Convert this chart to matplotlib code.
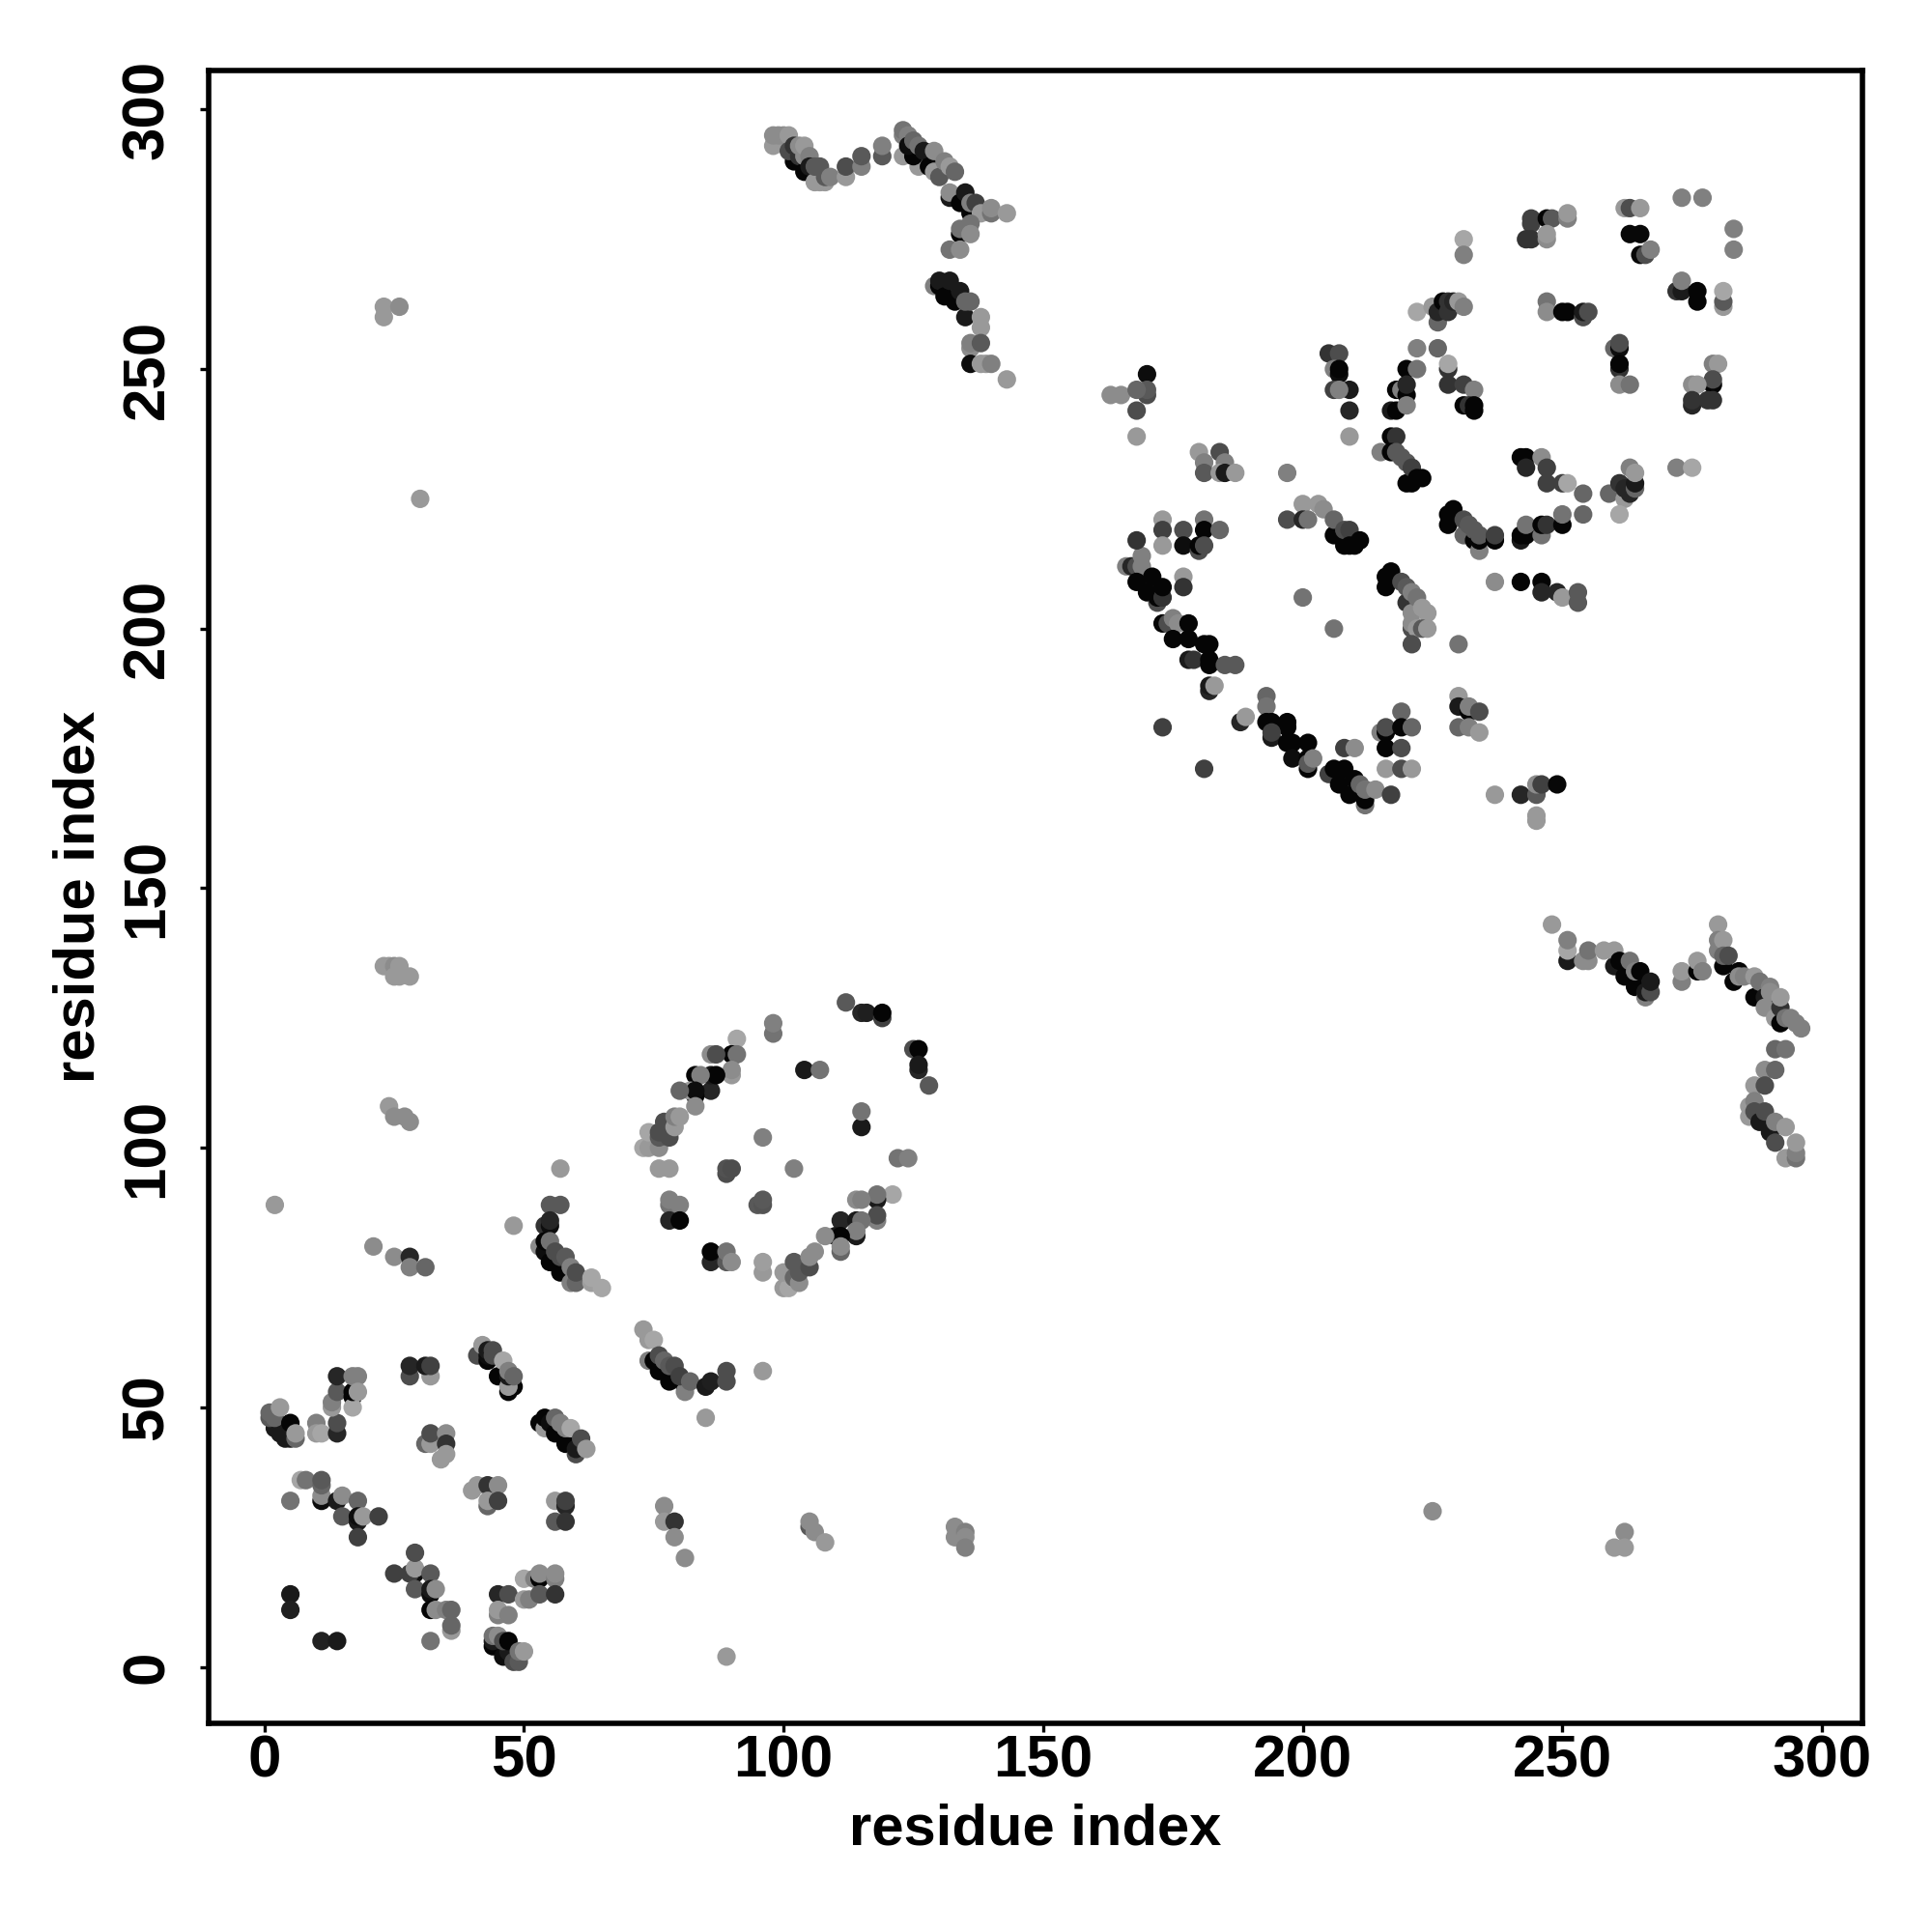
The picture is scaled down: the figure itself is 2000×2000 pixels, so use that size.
import matplotlib
matplotlib.use("Agg")
import matplotlib.pyplot as plt

# (residue i, residue j, grey level), one list per patch
block_a = [(2,46,.1),(2,47,.1),(3,45,.1),(4,44,.1),(1,48,.35),(1,49,.4),(2,48,.4),(5,44,.1),(3,50,.6),(6,44,.4),(5,47,.02),(6,45,.6),
           (10,47,.5),(10,45,.6),(11,45,.65),(14,45,.15),(14,47,.3),
           (13,50,.6),(13,51,.5),(14,53,.35),(14,56,.15),(17,52,.02),(17,50,.65),(17,53,.02),(17,56,.5),(18,56,.5),(18,53,.6),
           (28,56,.3),(28,58,.15),(32,56,.6),(31,58,.1),(32,58,.25),
           (31,43,.4),(32,43,.6),(32,45,.3),(35,45,.55),(35,43,.2),(35,41,.6),(34,40,.6),
           (41,60,.3),(43,59,.02),(43,60,.05),(42,62,.6),(43,61,.1),(44,60,.3),(44,61,.3),(45,56,.02),(47,53,.02),(48,54,.02),(47,54,.6),(47,56,.1),(46,59,.65),(47,57,.5),(48,56,.4),
           (53,47,.02),(54,46,.6),(54,48,.02),(55,47,.05),(56,45,.02),(58,43,.02),(60,41,.3),(60,42,.1),(56,48,.4),(57,47,.5),(58,46,.5),(59,46,.65),(61,44,.3),(62,42,.6)]
block_b = [(7,36,.65),(8,36,.45),(11,32,.05),(11,33,.55),(11,35,.4),(11,36,.35),(5,32,.45),(14,32,.1),(15,33,.55),(18,32,.4),(15,29,.35),(18,28,.1),(18,29,.05),(19,29,.6),(22,29,.25),(18,25,.25),
           (29,18,.05),(25,18,.25),(28,18,.25),(29,19,.6),(29,22,.3),(32,18,.35),(29,15,.35),(32,14,.05),(32,15,.1),(33,15,.55),(32,11,.02),(33,11,.55),(35,11,.5),(36,11,.4),(36,7,.6),(36,8,.4),(32,5,.45),
           (40,34,.6),(41,35,.6),(43,35,.2),(45,35,.55),(43,31,.4),(43,32,.6),(45,32,.25),
           (56,32,.6),(58,31,.15),(58,32,.25),(56,28,.35),(58,28,.2),
           (5,14,.1),(5,11,.12),(11,5,.13),(14,5,.1),
           (45,14,.15),(47,14,.3),(45,10,.5),(45,11,.6),(47,10,.5),(50,17,.65),(52,17,.5),(53,17,.02),(53,18,.55),(56,17,.5),(56,18,.55),(50,13,.6),(51,13,.5),(53,14,.35),(56,14,.2),
           (44,4,.02),(44,5,.1),(44,6,.45),(45,6,.55),(46,2,.05),(47,3,.1),(46,5,.3),(47,5,.02),(48,1,.3),(49,1,.35),(49,3,.45),(50,3,.6)]
block_c = [(57,96,.6),(48,85,.6),(55,89,.35),(57,89,.35),(54,85,.2),(55,85,.05),(55,86,.15),
           (53,81,.55),(54,80,.05),(54,82,.02),(55,78,.02),(57,76,.02),(59,75,.02),(55,82,.45),(56,80,.3),(57,79,.3),(58,79,.35),(59,74,.5),(60,74,.4),(59,77,.5),(60,76,.3),(63,74,.62),(63,75,.65),(65,73,.65),
           (73,65,.6),(74,63,.6),(75,63,.65),(74,59,.5),(75,59,.02),(76,57,.02),(78,55,.02),(81,54,.02),(81,53,.5),(76,60,.3),(77,59,.4),(78,58,.35),(79,58,.3),(80,56,.25),(82,55,.4),(85,54,.1),(86,55,.12),(89,55,.3),(89,57,.3),(96,57,.6),(85,48,.6),
           (2,89,.6),(21,81,.55),(25,79,.55),(28,79,.15),(28,77,.5),(31,77,.4)]
ring_top = [(78,89,.45),(78,90,.5),(80,89,.5),(78,86,.15),(80,86,.02),(89,95,.3),(89,96,.32),(90,96,.3),(95,89,.35),(96,89,.33),(96,90,.35),
            (86,78,.15),(86,80,.02),(89,78,.35),(89,80,.45),(90,78,.55),(96,76,.6),(96,78,.62),
            (112,128,.35),(115,126,.15),(116,126,.12),(119,125,.25),(119,126,.02),(98,122,.45),(98,124,.5),
            (91,121,.65),(90,118,.02),(91,118,.45),(86,118,.55),(87,118,.3),(90,114,.6),(90,115,.55),(86,111,.15),(86,114,.1),(87,114,.02),(83,110,.02),(83,114,.02),(84,114,.5),(82,111,.6),(83,111,.05),(80,111,.4),(83,108,.55),
            (73,100,.65),(74,100,.6),(76,100,.55),(74,103,.65),(76,102,.35),(76,103,.3),(78,102,.3),(77,105,.3),(79,104,.6),(79,106,.5),(80,106,.6),
            (76,96,.6),(78,96,.6),(104,115,.1),(107,115,.45),(115,104,.1),(115,107,.45),
            (125,119,.3),(126,119,.02),(126,115,.15),(126,116,.1),(128,112,.35),(96,102,.5),(102,96,.5),(122,98,.45),(124,98,.5)]
ring_bottom = [(121,91,.65),(118,90,.1),(118,91,.45),(114,90,.55),(115,90,.5),(118,86,.5),(118,87,.3),(111,86,.15),(114,86,.1),(115,86,.45),(114,83,.1),(114,84,.5),(110,83,.1),(111,83,.02),(108,83,.55),(111,80,.4),(111,81,.55),
               (100,73,.6),(101,73,.65),(100,76,.6),(102,75,.4),(103,74,.55),(103,76,.35),(102,78,.35),(105,77,.3),(105,79,.55),(106,80,.55)]
far_left = [(23,135,.6),(24,135,.6),(25,135,.55),(26,135,.6),(25,133,.6),(26,133,.6),(28,133,.6),(24,108,.6),(25,106,.55),(27,106,.55),(28,105,.55),
            (23,262,.6),(23,260,.6),(26,262,.55),(30,225,.6),(77,31,.55),(77,28,.6),(79,28,.2),(79,25,.55),(81,21,.55),
            (105,27,.35),(105,28,.55),(106,26,.55),(108,24,.6),(133,27,.55),(133,25,.55),(135,26,.5),(135,25,.55),(135,23,.5),
            (225,30,.55),(262,26,.55),(260,23,.6),(262,23,.6),(89,2,.6)]
strand_top = [(98,293,.6),(98,295,.55),(99,295,.55),(100,295,.55),(101,295,.6),(102,290,.02),(101,292,.3),(102,293,.2),(103,291,.2),(103,293,.55),(104,288,.02),(104,291,.55),(104,293,.6),(105,291,.5),(105,289,.1),
              (106,286,.6),(107,286,.6),(108,286,.6),(106,289,.35),(107,289,.35),(108,287,.35),(109,287,.5),(112,287,.6),(112,289,.3),(115,289,.5),(115,291,.35),(119,291,.35),(119,293,.5),
              (123,291,.6),(126,289,.6),(125,291,.02),(123,295,.5),(123,296,.45),(124,295,.5),(124,293,.05),(125,294,.4),(126,293,.45),(127,292,.1),(128,289,.02),(129,292,.55),(129,288,.6),(130,287,.35),(131,290,.5),(132,289,.6),(133,288,.4),
              (132,283,.1),(132,284,.55),(134,282,.02),(135,284,.1),(136,280,.02),(136,282,.5),(137,282,.25),(138,280,.6),(140,280,.45),(140,281,.55),(143,280,.6),
              (134,276,.02),(134,277,.45),(136,278,.45),(136,276,.55),(132,273,.45),(134,273,.55)]
strand_top2 = [(129,266,.5),(130,266,.02),(130,267,.1),(131,264,.02),(132,267,.1),(133,263,.02),(134,265,.1),(135,260,.1),(135,263,.4),(136,263,.4),(138,258,.6),(138,260,.6),
               (136,254,.55),(136,255,.5),(138,255,.35),(136,251,.05),(138,251,.6),(139,251,.6),(140,251,.5),(143,248,.6)]
centre_top = [(163,245,.55),(165,245,.55),(170,249,.05),(170,245,.3),(170,246,.35),(168,246,.4),(168,242,.3),(168,237,.6),
              (205,253,.2),(207,253,.3),(206,250,.5),(207,249,.05),(207,250,.02),(206,246,.25),(209,246,.1),(207,246,.5),(209,242,.15),(209,237,.6),
              (180,234,.6),(184,234,.3),(181,232,.5),(185,232,.5),(181,230,.35),(184,230,.6),(185,230,.1),(187,230,.6),(197,230,.5),
              (173,221,.6),(173,219,.25),(173,216,.6),(177,219,.3),(177,216,.05),(181,221,.45),(181,219,.02),(184,219,.4),(180,215,.3),(180,216,.02),(181,216,.3)]
ring2_left = [(166,212,.5),(167,212,.15),(168,212,.3),(169,214,.5),(169,212,.5),(168,209,.02),(170,207,.02),(171,210,.02),(172,205,.3),(172,206,.02),(173,206,.2),(173,208,.02),(177,210,.6),(177,208,.2),(168,217,.2),
              (173,201,.02),(174,201,.3),(175,202,.5),(176,201,.55),(175,198,.02),(178,201,.02),(178,198,.02),(181,197,.02),(182,197,.02),(178,194,.1),(179,194,.2),(182,193,.02),(182,194,.02),(185,193,.35),(187,193,.35),
              (182,188,.15),(182,189,.1),(183,189,.6),(173,181,.25),(181,173,.25),(193,187,.4),(193,185,.45),
              (188,182,.15),(189,183,.6),(193,182,.02),(194,182,.02),(197,181,.02),(197,182,.02),(194,179,.1),(194,180,.25),(197,178,.02),(198,178,.02),(201,178,.02),(198,175,.05),(201,175,.02),(201,173,.02),(201,174,.35),(202,175,.5),
              (208,177,.25),(210,177,.55),(205,172,.25),(206,173,.02),(208,173,.02),(207,170,.02),(209,168,.02),(210,171,.02),(211,170,.4),(212,166,.45),(212,167,.02),(212,169,.45),(214,169,.55),(217,168,.25)]
ring2_right = [(200,224,.6),(203,224,.6),(204,223,.55),(197,221,.3),(200,221,.15),(201,221,.45),(206,218,.02),(206,221,.4),(208,216,.02),(208,219,.3),(209,219,.25),(209,216,.02),(210,216,.02),(211,217,.02),
               (200,206,.45),(206,200,.45),(216,208,.02),(216,210,.02),(217,211,.02),(219,209,.3),(220,205,.2),(220,208,.35),(221,203,.55),(221,207,.5),(222,206,.45),(223,204,.6),(224,203,.6),(221,200,.3),(221,201,.55),(222,200,.6),(223,200,.35),(224,200,.6),(221,197,.3),
               (219,184,.4),(215,180,.5),(216,180,.02),(216,181,.3),(219,181,.02),(221,181,.4),(216,177,.02),(219,177,.3),(216,173,.6),(219,173,.3),(221,173,.6),
               (230,197,.45),(230,187,.6),(230,185,.1),(232,184,.02),(232,185,.5),(234,184,.3),(230,181,.4),(232,181,.5),(234,180,.6),
               (237,168,.6),(242,168,.15),(245,168,.35),(245,170,.55),(246,170,.25),(249,170,.03),(245,164,.6),(245,163,.6)]
sheet_a = [(273,283,.5),(277,283,.5),(283,277,.5),(283,273,.5),(262,281,.6),(263,281,.3),(265,281,.6),(263,276,.03),(265,276,.03),(265,272,.03),(266,272,.3),(267,273,.5),
           (244,278,.25),(244,279,.25),(247,279,.02),(248,279,.35),(251,279,.5),(251,280,.6),(243,275,.2),(244,275,.2),(247,275,.55),(247,276,.6),(231,275,.65),(231,272,.5),
           (222,261,.65),(225,262,.6),(226,259,.4),(226,261,.15),(227,263,.02),(228,261,.2),(228,263,.2),(229,263,.15),(230,263,.6),(231,262,.5),
           (247,263,.45),(247,261,.55),(250,261,.02),(251,261,.02),(254,260,.3),(254,261,.1),(255,261,.3),
           (272,265,.2),(273,265,.1),(273,267,.5),(276,265,.02),(276,263,.02),(281,262,.6),(281,263,.35),(281,265,.65),
           (260,254,.4),(261,254,.05),(261,255,.3),(261,250,.2),(261,251,.02),(261,247,.55),(263,247,.45),
           (279,251,.5),(280,251,.6),(279,247,.02),(279,248,.3),(275,247,.55),(276,247,.6),(275,243,.15),(275,244,.2),(278,244,.2),(279,244,.2),
           (222,254,.5),(226,254,.4),(228,250,.2),(228,251,.65),(220,250,.02),(222,250,.45),(218,246,.02),(219,246,.5),(220,245,.02),(220,247,.15),(217,242,.1),(218,242,.02),(220,243,.5),
           (228,247,.2),(231,247,.25),(233,246,.5),(231,243,.02),(232,243,.2),(233,242,.02),(233,243,.02)]
sheet_b = [(215,234,.5),(217,237,.02),(218,237,.2),(217,234,.02),(220,228,.02),(221,228,.02),(218,234,.35),(219,233,.35),(220,232,.35),(221,231,.25),(222,229,.02),(223,229,.02),
           (242,233,.02),(243,233,.02),(243,231,.15),(246,233,.55),(247,231,.25),(247,228,.25),(250,228,.25),(251,228,.65),(254,226,.4),(254,222,.4),
           (259,226,.4),(261,228,.2),(262,225,.6),(262,227,.15),(263,226,.15),(263,231,.5),(264,227,.4),(264,228,.1),(264,230,.6),(261,222,.65),(272,231,.5),(275,231,.65),
           (228,220,.02),(228,222,.02),(229,223,.02),(231,218,.4),(231,221,.3),(232,220,.35),(233,217,.02),(233,219,.35),(234,215,.5),(234,217,.02),(234,218,.35),(237,217,.02),(237,218,.25),
           (242,217,.1),(242,218,.02),(243,218,.02),(243,220,.45),(246,218,.45),(246,220,.02),(247,220,.2),(250,220,.02),(250,222,.45),
           (237,209,.55),(242,209,.02),(246,209,.02),(246,207,.15),(249,207,.15),(250,206,.6),(253,205,.35),(253,207,.35)]
strand_right = [(248,143,.6),(251,136,.1),(251,138,.65),(251,140,.5),(254,136,.55),(255,136,.55),(255,138,.45),(258,138,.6),(260,135,.1),(260,138,.6),(261,136,.02),(262,133,.02),(264,131,.02),(263,136,.45),(264,134,.5),(265,134,.02),(266,129,.5),(266,130,.1),(267,130,.3),(267,132,.1),
                (273,132,.5),(273,134,.6),(276,134,.02),(276,136,.6),(277,134,.5),(280,143,.6),(280,138,.5),(280,140,.5),(281,140,.6),(281,135,.02),(281,137,.4),(282,137,.3),(283,132,.02),(284,134,.02),(284,133,.55),(285,133,.5),
                (287,129,.02),(287,133,.6),(288,132,.45),(289,129,.1),(289,127,.55),(290,131,.5),(290,130,.55),(291,125,.6),(292,124,.02),(292,127,.2),(292,129,.6),(293,125,.45),(294,125,.5),(295,124,.5),(296,123,.5),
                (291,119,.4),(293,119,.45),(289,115,.55),(291,115,.4),(287,112,.6),(289,112,.3),
                (286,106,.6),(286,108,.6),(287,109,.5),(287,107,.3),(288,105,.1),(289,107,.3),(290,103,.1),(291,105,.5),(291,101,.3),(293,98,.6),(293,104,.6),(295,98,.45),(295,99,.5),(295,101,.6)]

patches = [block_a, block_b, block_c, ring_top, ring_bottom, far_left, strand_top, strand_top2,
           centre_top, ring2_left, ring2_right, sheet_a, sheet_b, strand_right]
ticks = [0, 50, 100, 150, 200, 250, 300]

plt.rcParams['font.family'] = ['Liberation Sans', 'DejaVu Sans']
fig = plt.figure(figsize=(20, 20), dpi=100)
ax = fig.add_axes([216/2000, 1 - 1784/2000, 1712/2000, 1711/2000])

for patch in patches:
    xs, ys, greys = zip(*patch)
    ax.scatter(xs, ys, s=190, c=[(g, g, g) for g in greys], linewidths=0, zorder=3)

ax.set_xlim(-10.74, 307.8)
ax.set_ylim(-10.85, 307.5)
ax.set_xticks(ticks)
ax.set_yticks(ticks)
ax.tick_params(length=6.5, width=2.4, labelsize=44.5)
ax.tick_params(axis="x", pad=1.5)
ax.tick_params(axis="y", pad=18)
for lab in ax.get_xticklabels() + ax.get_yticklabels():
    lab.set_fontweight("bold")
for lab in ax.get_yticklabels():
    lab.set_rotation(90)
    lab.set_va("center")
for sp in ax.spines.values():
    sp.set_linewidth(4)
ax.set_xlabel("residue index", fontsize=43, fontweight="bold", labelpad=10)
ax.set_ylabel("residue index", fontsize=43, fontweight="bold", labelpad=11)

fig.savefig("out.png", dpi=100)
